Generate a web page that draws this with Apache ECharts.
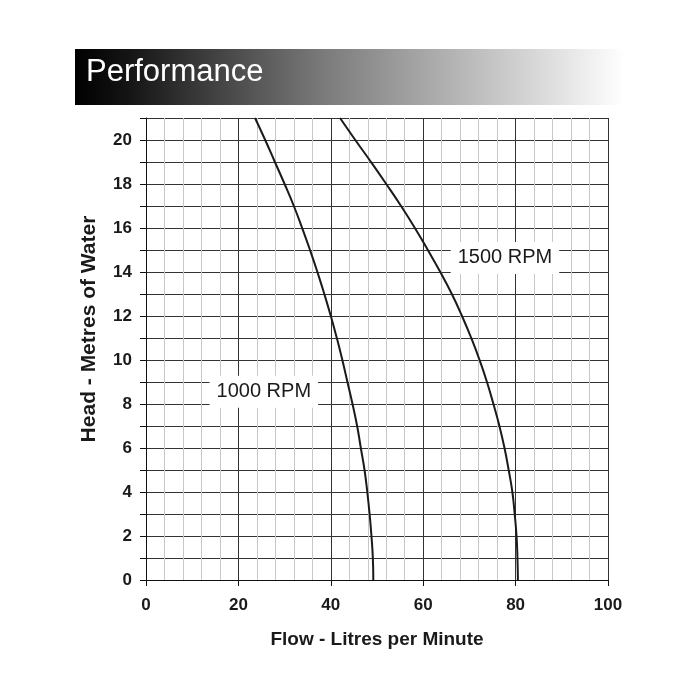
<!DOCTYPE html>
<html>
<head>
<meta charset="utf-8">
<script src="https://cdn.jsdelivr.net/npm/echarts@6/dist/echarts.min.js"></script>
<style>
  html, body { margin: 0; padding: 0; background: #fff; }
  #chart { width: 700px; height: 700px; }
</style>
</head>
<body>
<div id="chart"></div>
<script>
// head in metres of water, flow in litres per minute
const headLevels = [21, 20, 19, 18, 17, 16, 15, 14, 13, 12, 11, 10, 9, 8, 7, 6, 5, 4, 3, 2, 1, 0];
const flow1000 = [23.6, 25.8, 27.9, 30.0, 32.0, 33.8, 35.5, 37.1, 38.6, 40.0, 41.3, 42.5, 43.6, 44.7, 45.7, 46.5, 47.3, 47.9, 48.4, 48.8, 49.1, 49.2];
const flow1500 = [42.0, 45.3, 48.7, 52.0, 55.2, 58.2, 61.0, 63.7, 66.2, 68.4, 70.4, 72.2, 73.8, 75.2, 76.5, 77.6, 78.5, 79.3, 79.8, 80.2, 80.4, 80.5];
const curveLabels = [
  { name: '1000 RPM', value: [25.5, 8.56] },
  { name: '1500 RPM', value: [77.7, 14.64] }
];

const font = '"Liberation Sans", Arial, sans-serif';
const ink = '#1a1a1a';

const toPoints = (flows) => flows.map((f, i) => [f, headLevels[i]]);

const chart = echarts.init(document.getElementById('chart'));

chart.setOption({
  backgroundColor: '#fff',
  animation: false,
  graphic: [
    {
      type: 'rect',
      shape: { x: 75, y: 49, width: 550, height: 56 },
      style: {
        fill: new echarts.graphic.LinearGradient(0, 0, 1, 0, [
          { offset: 0, color: '#000' },
          { offset: 0.1, color: '#151515' },
          { offset: 0.45, color: '#7a7a7a' },
          { offset: 1, color: '#fff' }
        ])
      },
      z: 0
    },
    {
      type: 'text',
      left: 86,
      top: 57,
      style: { text: 'Performance', fill: '#fff', font: '31px ' + font },
      z: 1
    }
  ],
  grid: { left: 146, right: 92, top: 118, bottom: 120 },
  xAxis: {
    type: 'value',
    min: 0,
    max: 100,
    interval: 20,
    name: 'Flow - Litres per Minute',
    nameLocation: 'middle',
    nameGap: 50,
    nameTextStyle: { fontFamily: font, fontWeight: 'bold', fontSize: 19, color: ink },
    axisLine: { lineStyle: { color: '#111', width: 1 } },
    axisTick: { show: true, length: 6, lineStyle: { color: '#111' } },
    axisLabel: { fontFamily: font, fontWeight: 'bold', fontSize: 17, color: ink, margin: 17 },
    splitLine: { show: true, lineStyle: { color: '#333', width: 1 } },
    minorTick: { show: false, splitNumber: 5 },
    minorSplitLine: { show: true, lineStyle: { color: '#c8c8c8', width: 1 } }
  },
  yAxis: {
    type: 'value',
    min: 0,
    max: 21,
    interval: 1,
    name: 'Head - Metres of Water',
    nameLocation: 'middle',
    nameGap: 46,
    nameTextStyle: { fontFamily: font, fontWeight: 'bold', fontSize: 21, color: ink, padding: [0, 0, 0, 40] },
    axisLine: { lineStyle: { color: '#111', width: 1 } },
    axisTick: { show: true, length: 6, lineStyle: { color: '#111' } },
    axisLabel: {
      fontFamily: font, fontWeight: 'bold', fontSize: 17, color: ink, margin: 14,
      formatter: (v) => (v % 2 === 0 ? String(v) : '')
    },
    splitLine: { show: true, lineStyle: { color: '#333', width: 1 } }
  },
  series: [
    {
      name: '1000 RPM',
      type: 'line',
      data: toPoints(flow1000),
      smooth: 0.5,
      showSymbol: false,
      lineStyle: { color: ink, width: 2 },
      z: 3
    },
    {
      name: '1500 RPM',
      type: 'line',
      data: toPoints(flow1500),
      smooth: 0.5,
      showSymbol: false,
      lineStyle: { color: ink, width: 2 },
      z: 3
    },
    {
      type: 'scatter',
      data: curveLabels,
      symbolSize: 0,
      itemStyle: { opacity: 1 },
      z: 4,
      label: {
        show: true,
        position: 'inside',
        formatter: (p) => p.name,
        fontFamily: font,
        fontSize: 20,
        color: ink,
        backgroundColor: '#fff',
        padding: [6, 7, 6, 7]
      }
    }
  ]
});
</script>
</body>
</html>
